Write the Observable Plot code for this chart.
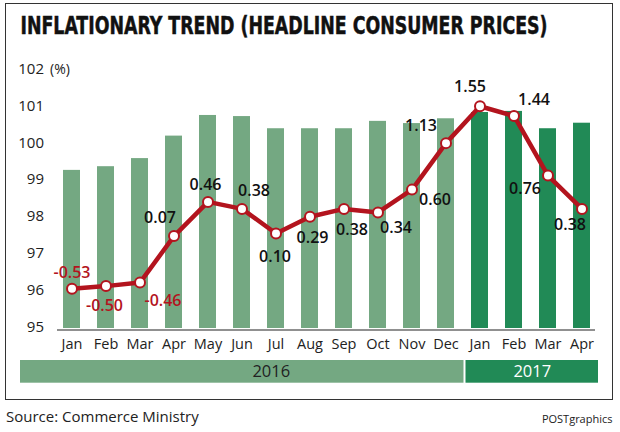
<!DOCTYPE html>
<html>
<head>
<meta charset="utf-8">
<script src="https://cdn.jsdelivr.net/npm/d3@7"></script>
<script src="https://cdn.jsdelivr.net/npm/@observablehq/plot@0.6"></script>
<style>
  html, body { margin: 0; padding: 0; background: #fff; }
  #wrap { position: relative; width: 620px; height: 432px; overflow: hidden; background: #fff; font-family: "Open Sans", sans-serif; }
  #box { position: absolute; left: 4.5px; top: 2.5px; width: 608px; height: 397.5px; border: 1.6px solid #333; box-sizing: border-box; }
  #main, #years, #texts { position: absolute; left: 0; }
  #main { top: 0; }
  #years { top: 356px; }
  #texts { top: 0; }
</style>
</head>
<body>
<div id="wrap">
  <div id="box"></div>
  <div id="main"></div>
  <div id="years"></div>
  <svg id="texts" width="620" height="432" style="pointer-events:none">
    <text x="20.5" y="33.5" textLength="527" lengthAdjust="spacingAndGlyphs" font-family="DejaVu Sans" font-stretch="condensed" font-weight="bold" font-size="25" fill="#111" stroke="#111" stroke-width="0.5">INFLATIONARY TREND (HEADLINE CONSUMER PRICES)</text>
    <text x="6" y="421.5" font-family="Open Sans" font-size="15" fill="#222">Source: Commerce Ministry</text>
    <text x="612.5" y="423" text-anchor="end" font-family="Open Sans" font-size="11" fill="#222">POSTgraphics</text>
  </svg>
</div>
<script>
// ---- data ----
const months = ["Jan","Feb","Mar","Apr","May","Jun","Jul","Aug","Sep","Oct","Nov","Dec","Jan","Feb","Mar","Apr"];
const monthYears = ["2016","2016","2016","2016","2016","2016","2016","2016","2016","2016","2016","2016","2017","2017","2017","2017"];
// headline consumer price index (bars, left axis)
const cpiIndex = [99.29, 99.39, 99.61, 100.22, 100.78, 100.75, 100.42, 100.42, 100.42, 100.62, 100.56, 100.69, 100.86, 100.89, 100.42, 100.57];
// year-on-year inflation rate, % (line)
const inflation = [-0.53, -0.50, -0.46, 0.07, 0.46, 0.38, 0.10, 0.29, 0.38, 0.34, 0.60, 1.13, 1.55, 1.44, 0.76, 0.38];
const yTicks = [95, 96, 97, 98, 99, 100, 101, 102];
const years = ["2016", "2017"];
const yearMonthCounts = [12, 4];

// secondary (rate) axis mapped onto the index axis
const rateAt0 = 97.34, ratePerPoint = 2.38;
// label placement offsets (px) for each rate annotation
const labelDx = [0, -1.5, 23, -14, -2.5, 12, -1, 2.5, 8, 18, 23, -25, -10, 20, -23, -12];
const labelDy = [-16, 20, 18, -18, -17, -18, 23, 21, 21, 15, 10, -17, -19, -16, 13, 16];

const green16 = "#74a882", green17 = "#218a56", red = "#b3141e";

const keys = months.map((m, i) => m + " " + monthYears[i]);
const table = keys.map((k, i) => ({
  key: k, month: months[i], year: monthYears[i],
  index: cpiIndex[i], rate: inflation[i],
  rateY: rateAt0 + ratePerPoint * inflation[i]
}));

const labelMarks = table.map((d, i) => Plot.text([d], {
  x: "key", y: "rateY",
  text: d => d.rate.toFixed(2),
  dx: labelDx[i], dy: labelDy[i],
  fill: d.rate < 0 ? red : "#111",
  fontSize: 16, fontWeight: 600, fontFamily: "Open Sans"
}));

const main = Plot.plot({
  width: 620, height: 360,
  marginTop: 70, marginBottom: 32, marginLeft: 40.5, marginRight: 8.5,
  style: { fontFamily: "Open Sans", fontSize: "15px", color: "#222", background: "transparent" },
  x: { domain: keys, padding: 0.5, axis: null },
  y: { domain: [95, 102], axis: null },
  marks: [
    Plot.barY(table, { x: "key", y1: 95, y2: "index", fill: d => d.year === "2016" ? green16 : green17 }),
    Plot.ruleY([95], { stroke: "#222", strokeWidth: 1.2, insetLeft: 16.5, insetRight: 16.5, dy: 1.5 }),
    Plot.axisX({ domain: keys, tickSize: 0, tickPadding: 10, tickFormat: k => k.slice(0, 3), fontSize: 14.5, fill: "#222", label: null }),
    Plot.axisY({ ticks: yTicks, tickSize: 0, tickPadding: -3, tickFormat: d => String(d), fontSize: 15, fill: "#222", dy: -1.5, label: null }),
    Plot.text(["(%)"], { frameAnchor: "top-left", dx: 9, dy: -1, lineAnchor: "middle", textAnchor: "start", fontSize: 14, fill: "#222" }),
    Plot.line(table, { x: "key", y: "rateY", stroke: red, strokeWidth: 4.5, strokeLinejoin: "round" }),
    Plot.dot(table, { x: "key", y: "rateY", r: 5, fill: "#fff", stroke: red, strokeWidth: 2 }),
    ...labelMarks
  ]
});
document.getElementById("main").appendChild(main);

let acc = 0;
const yearTable = years.map((y, i) => { const s = acc; acc += yearMonthCounts[i]; return { year: y, start: s, end: acc }; });

const yearPlot = Plot.plot({
  width: 620, height: 30,
  margin: 0, marginTop: 4, marginBottom: 0,
  style: { fontFamily: "Open Sans", background: "transparent" },
  x: { type: "linear", domain: [0, 12, 16], range: [19, 464.5, 599], axis: null },
  y: { domain: [0, 1], range: [26.7, 4], axis: null },
  marks: [
    Plot.rect(yearTable, { x1: "start", x2: "end", y1: 0, y2: 1, insetLeft: 1, insetRight: 1, fill: d => d.year === "2016" ? green16 : green17 }),
    Plot.text(yearTable.filter(d => d.year === "2016"), { x: d => (d.start + d.end) / 2, y: 0.5, dx: 29, text: "year", fontSize: 16.5, fill: "#222" }),
    Plot.text(yearTable.filter(d => d.year === "2017"), { x: d => (d.start + d.end) / 2, y: 0.5, text: "year", fontSize: 16.5, fill: "#fff" })
  ]
});
document.getElementById("years").appendChild(yearPlot);
</script>
</body>
</html>
